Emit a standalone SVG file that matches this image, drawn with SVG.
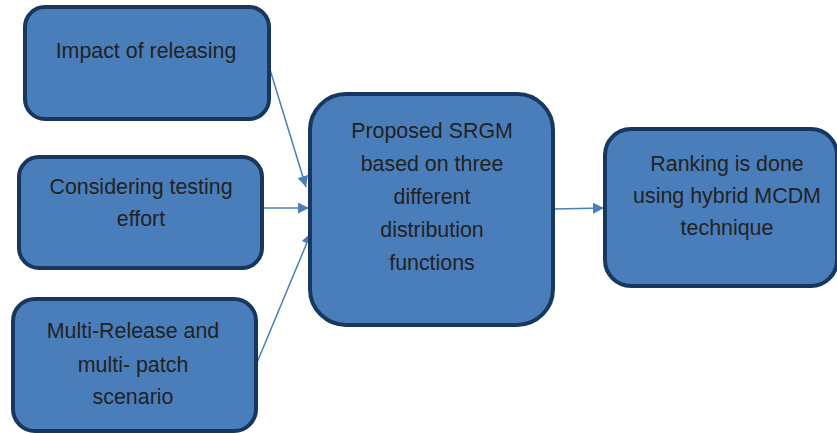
<svg xmlns="http://www.w3.org/2000/svg" width="837" height="433" viewBox="0 0 837 433">
<style>
.box{fill:#4a7ebb;stroke:#17375e;stroke-width:4}
.t{font-family:"Liberation Sans",Arial,sans-serif;font-size:21.4px;fill:#222;text-anchor:middle}
.c{stroke:#4a7ebb;stroke-width:1.5;fill:none;marker-end:url(#ah)}
</style>
<defs>
<marker id="ah" viewBox="0 0 10 10" refX="10" refY="5" markerWidth="11" markerHeight="11" markerUnits="userSpaceOnUse" orient="auto">
<path d="M0,0 L10,5 L0,10 z" fill="#4a7ebb"/>
</marker>
</defs>
<rect width="837" height="433" fill="#fff"/>
<g id="connectors">
<line class="c" x1="268" y1="63" x2="306" y2="187"/>
<line class="c" x1="263" y1="208" x2="309" y2="208"/>
<line class="c" x1="256" y1="365" x2="311" y2="233"/>
<line class="c" x1="554" y1="209" x2="604" y2="208"/>
</g>
<g id="n1">
<rect class="box" x="25" y="7" width="244" height="112" rx="20"/>
<text class="t" x="146" y="58">Impact of releasing</text>
</g>
<g id="n2">
<rect class="box" x="19" y="157" width="243" height="111" rx="20"/>
<text class="t" x="141" y="194">Considering testing</text>
<text class="t" x="141" y="226">effort</text>
</g>
<g id="n3">
<rect class="box" x="13" y="299" width="243" height="132" rx="22"/>
<text class="t" x="133" y="338">Multi-Release and</text>
<text class="t" x="133" y="372">multi- patch</text>
<text class="t" x="133" y="404">scenario</text>
</g>
<g id="n4">
<rect class="box" x="310" y="94" width="243" height="231" rx="36"/>
<text class="t" x="432" y="138">Proposed SRGM</text>
<text class="t" x="432" y="171">based on three</text>
<text class="t" x="432" y="204">different</text>
<text class="t" x="432" y="237">distribution</text>
<text class="t" x="432" y="270">functions</text>
</g>
<g id="n5">
<rect class="box" x="605" y="129" width="232" height="157" rx="26"/>
<text class="t" x="727" y="171">Ranking is done</text>
<text class="t" x="727" y="203">using hybrid MCDM</text>
<text class="t" x="727" y="235">technique</text>
</g>
</svg>
